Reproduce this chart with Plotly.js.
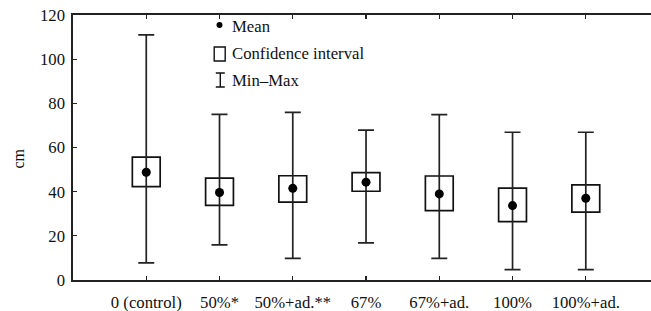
<!DOCTYPE html>
<html>
<head>
<meta charset="utf-8">
<script src="https://cdn.plot.ly/plotly-3.0.1.min.js"></script>
<style>html,body{margin:0;padding:0;background:#fff;}#chart{width:651px;height:311px;}</style>
</head>
<body>
<div id="chart"></div>
<script>
const categories = ["0 (control)", "50%*", "50%+ad.**", "67%", "67%+ad.", "100%", "100%+ad."];
const meanValues = [48.8, 39.6, 41.5, 44.3, 39.0, 33.7, 37.0];
const ciLow = [42.3, 33.8, 35.3, 40.2, 31.4, 26.4, 30.7];
const ciHigh = [55.6, 46.1, 47.2, 48.6, 47.1, 41.6, 43.1];
const minValues = [7.8, 15.9, 9.8, 16.8, 9.8, 4.7, 4.7];
const maxValues = [111, 75, 75.9, 67.9, 74.9, 66.9, 66.9];
const yTicks = [0, 20, 40, 60, 80, 100, 120];
const legendLabels = ["Mean", "Confidence interval", "Min\u2013Max"];

const xPos = categories.map((c, i) => i + 1);
const FONT = "Liberation Serif, Times New Roman, serif";
const INK = "#111";

const ciTrace = {
  type: "bar",
  x: xPos,
  base: ciLow,
  y: ciHigh.map((h, i) => h - ciLow[i]),
  width: 0.38,
  marker: {color: "rgba(0,0,0,0)", line: {color: INK, width: 1.7}},
  hoverinfo: "skip",
  showlegend: false
};

const meanTrace = {
  type: "scatter",
  mode: "markers",
  x: xPos,
  y: meanValues,
  marker: {color: "#000", size: 9},
  error_y: {
    type: "data",
    symmetric: false,
    array: maxValues.map((m, i) => m - meanValues[i]),
    arrayminus: meanValues.map((m, i) => m - minValues[i]),
    width: 8,
    thickness: 1.7,
    color: "#222"
  },
  showlegend: false
};

// legend (drawn in pixel offsets)
const L = 73, T = 15, W = 578, H = 265;
const px = v => (v - L) / W;
const py = v => (T + H - v) / H;

const shapes = [
  {type: "circle", xref: "paper", yref: "paper", xsizemode: "pixel", ysizemode: "pixel",
   xanchor: px(219.5), yanchor: py(25), x0: -3, x1: 3, y0: -3, y1: 3,
   fillcolor: "#000", line: {width: 0}},
  {type: "rect", xref: "paper", yref: "paper", xsizemode: "pixel", ysizemode: "pixel",
   xanchor: px(219.7), yanchor: py(54), x0: -5.5, x1: 5.5, y0: -7, y1: 7,
   line: {color: INK, width: 1.4}},
  {type: "path", xref: "paper", yref: "paper", xsizemode: "pixel", ysizemode: "pixel",
   xanchor: px(220.3), yanchor: py(80), path: "M -4.5,-7 H 4.5 M 0,-7 V 7 M -4.5,7 H 4.5",
   line: {color: INK, width: 1.4}}
];

const legendY = [26.5, 54, 80.5];
const annotations = legendLabels.map((t, i) => ({
  xref: "paper", yref: "paper", x: px(230), y: py(legendY[i]),
  xanchor: "left", yanchor: "middle", showarrow: false, text: t,
  font: {family: FONT, size: 16.7, color: INK}
}));
annotations.push({
  xref: "paper", yref: "paper", x: px(17.5), y: py(159), xanchor: "center", yanchor: "middle",
  showarrow: false, text: "cm", textangle: -90, font: {family: FONT, size: 16, color: INK}
});

const layout = {
  width: 651, height: 311,
  margin: {l: L, r: 0, t: T, b: 311 - T - H, pad: 0},
  paper_bgcolor: "#fff", plot_bgcolor: "#fff",
  font: {family: FONT, size: 16.7, color: INK},
  showlegend: false,
  xaxis: {
    range: [0, 7.89], tickvals: xPos, ticktext: categories,
    showgrid: false, zeroline: false, showline: true, linecolor: "#222", linewidth: 1.6,
    mirror: "ticks", ticks: "inside", ticklen: 4, tickwidth: 1.3, tickcolor: "#222",
    ticklabelstandoff: 6, fixedrange: true
  },
  yaxis: {
    range: [0, 120], tickvals: yTicks, ticktext: yTicks.map(String),
    showgrid: false, zeroline: false, showline: true, linecolor: "#222", linewidth: 1.6,
    ticks: "inside", ticklen: 4, tickwidth: 1.3, tickcolor: "#222",
    ticklabelstandoff: 3, fixedrange: true
  },
  shapes: shapes,
  annotations: annotations
};

Plotly.newPlot("chart", [ciTrace, meanTrace], layout, {displayModeBar: false, staticPlot: true});
</script>
</body>
</html>
